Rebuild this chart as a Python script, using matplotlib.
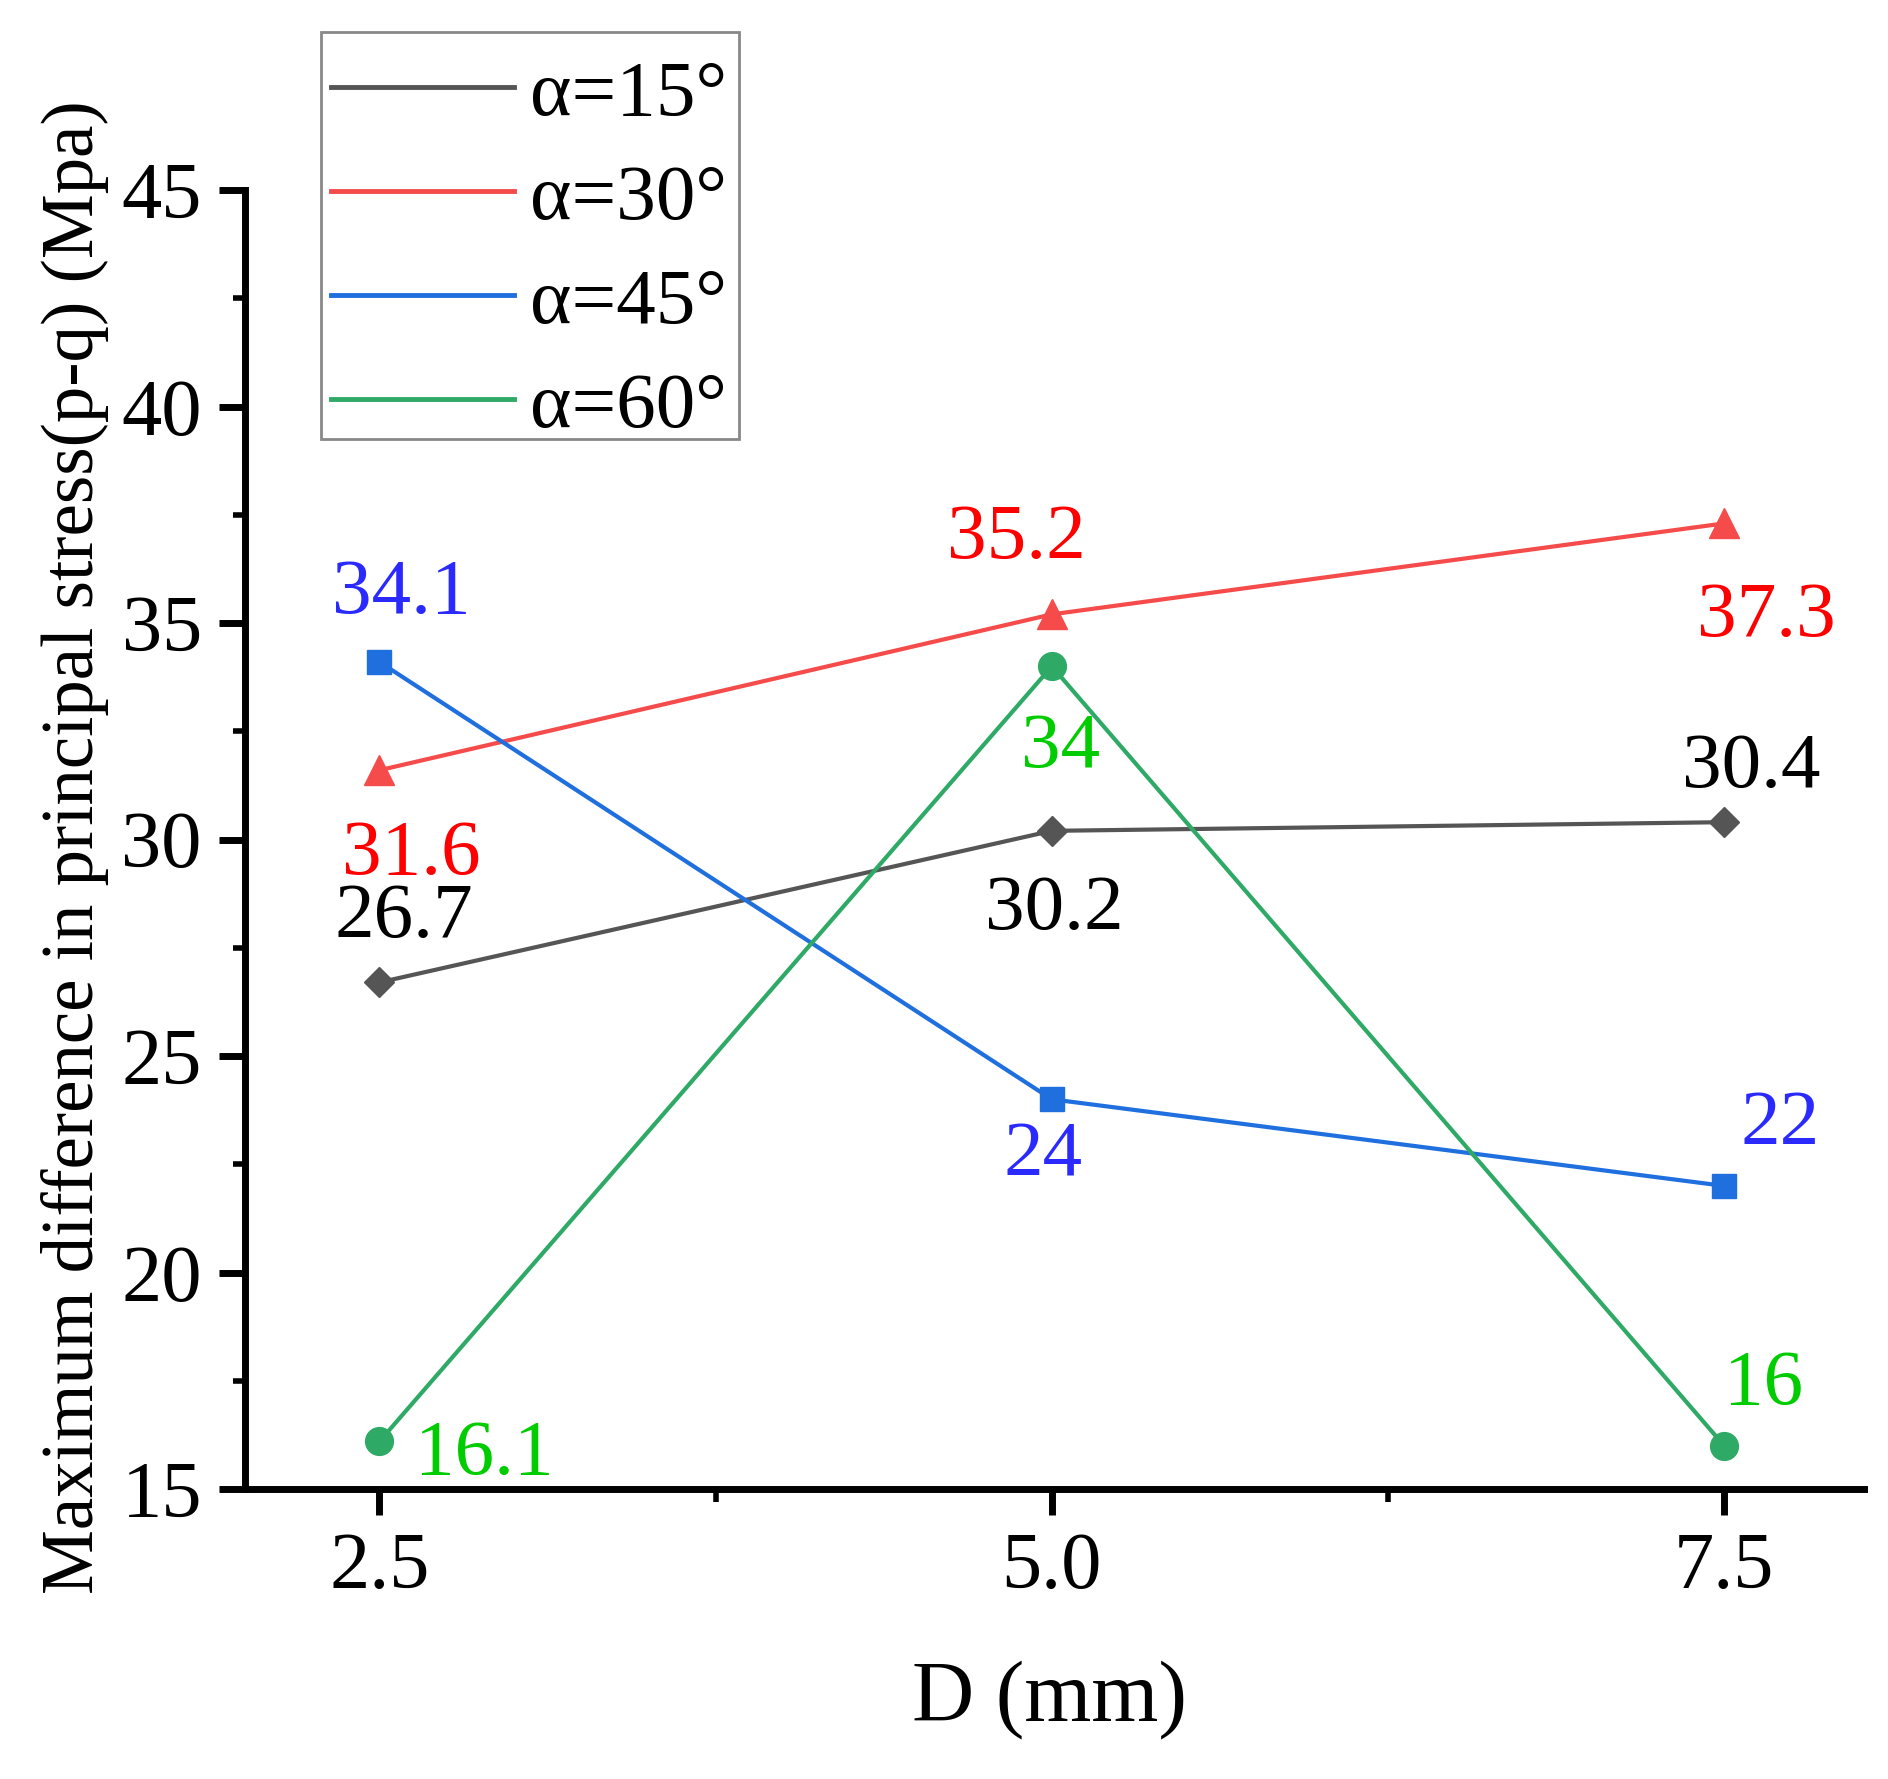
import matplotlib
matplotlib.use("Agg")
import matplotlib.pyplot as plt
from matplotlib import font_manager
from matplotlib.lines import Line2D
from matplotlib.patches import Rectangle
from matplotlib.ticker import MultipleLocator

_names = {f.name for f in font_manager.fontManager.ttflist}
_serif = next((n for n in ['Liberation Serif', 'Tinos', 'Times New Roman', 'TeX Gyre Termes',
                           'Nimbus Roman', 'STIXGeneral', 'DejaVu Serif'] if n in _names), 'serif')
plt.rcParams['font.family'] = [_serif, 'DejaVu Serif']

# ---- data ----
D = [2.5, 5.0, 7.5]
series_labels = ['α=15°', 'α=30°', 'α=45°', 'α=60°']
a15 = [26.7, 30.2, 30.4]
a30 = [31.6, 35.2, 37.3]
a45 = [34.1, 24, 22]
a60 = [16.1, 34, 16]
value_texts15 = ['26.7', '30.2', '30.4']
value_texts30 = ['31.6', '35.2', '37.3']
value_texts45 = ['34.1', '24', '22']
value_texts60 = ['16.1', '34', '16']
xticks = [2.5, 5.0, 7.5]
xticklabels = ['2.5', '5.0', '7.5']
yticks = [15, 20, 25, 30, 35, 40, 45]

# ---- styles ----
line_colors = ['#555555', '#F54B4B', '#1F6FDE', '#2EAA66']
text_colors = ['#000000', '#FF0000', '#2A2AFF', '#00CC00']
markers = ['D', '^', 's', 'o']
msizes = [15, 21, 17, 20]
# label offsets in pixels (dx, dy)
offsets = [
    [(24, 64), (3, -79), (27, 54)],
    [(32, -85), (-35, 75), (42, -94)],
    [(22, 68), (-9, -57), (56, 61)],
    [(105, -14), (9, -82), (39, 60)],
]

W, H = 1888, 1779
fig = plt.figure(figsize=(W / 100, H / 100), dpi=100)
ax = fig.add_axes([245 / W, 1 - 1489 / H, (1864 - 245) / W, (1489 - 190) / H])

all_series = [a15, a30, a45, a60]
all_texts = [value_texts15, value_texts30, value_texts45, value_texts60]
for i, ys in enumerate(all_series):
    ax.plot(D, ys, color=line_colors[i], lw=3.0, marker=markers[i],
            ms=msizes[i], mec=line_colors[i], mfc=line_colors[i], zorder=3)
    for j, (x, y) in enumerate(zip(D, ys)):
        dx, dy = offsets[i][j]
        ax.annotate(all_texts[i][j], (x, y), xytext=(dx, dy),
                    textcoords='offset pixels', ha='center', va='center',
                    color=text_colors[i], fontsize=57, zorder=4)

ax.set_xlim(2.0, 8.02)
ax.set_ylim(15, 45)
ax.set_xticks(xticks)
ax.set_xticklabels(xticklabels)
ax.set_yticks(yticks)
ax.xaxis.set_minor_locator(MultipleLocator(1.25))
ax.yaxis.set_minor_locator(MultipleLocator(2.5))

for s in ['top', 'right']:
    ax.spines[s].set_visible(False)
for s in ['left', 'bottom']:
    ax.spines[s].set_linewidth(5)
    ax.spines[s].set_color('black')

ax.tick_params(which='major', direction='out', length=19, width=5,
               labelsize=58, pad=12)
ax.tick_params(which='minor', direction='out', length=9, width=4)

fig.text(1049 / W, 1 - 1700 / H, 'D (mm)', ha='center', va='center', fontsize=62)
fig.text(75 / W, 1 - 847 / H, 'Maximum difference in principal stress(p-q) (Mpa)',
         ha='center', va='center', rotation=90, fontsize=52.5)

handles = [Line2D([0], [0], color=c, lw=3.5) for c in line_colors]
leg = fig.legend(handles, series_labels, loc='upper left',
                 bbox_to_anchor=(321 / W, 1 - 50 / H), fontsize=57,
                 frameon=False, handlelength=2.32, handletextpad=0.2,
                 labelspacing=0.4, borderpad=0.12, borderaxespad=0)
fig.add_artist(Rectangle((321 / W, 1 - 439 / H), (739 - 321) / W, (439 - 32) / H,
                         transform=fig.transFigure, fill=False,
                         edgecolor='#888888', linewidth=2))

fig.savefig('out.png', dpi=100)
